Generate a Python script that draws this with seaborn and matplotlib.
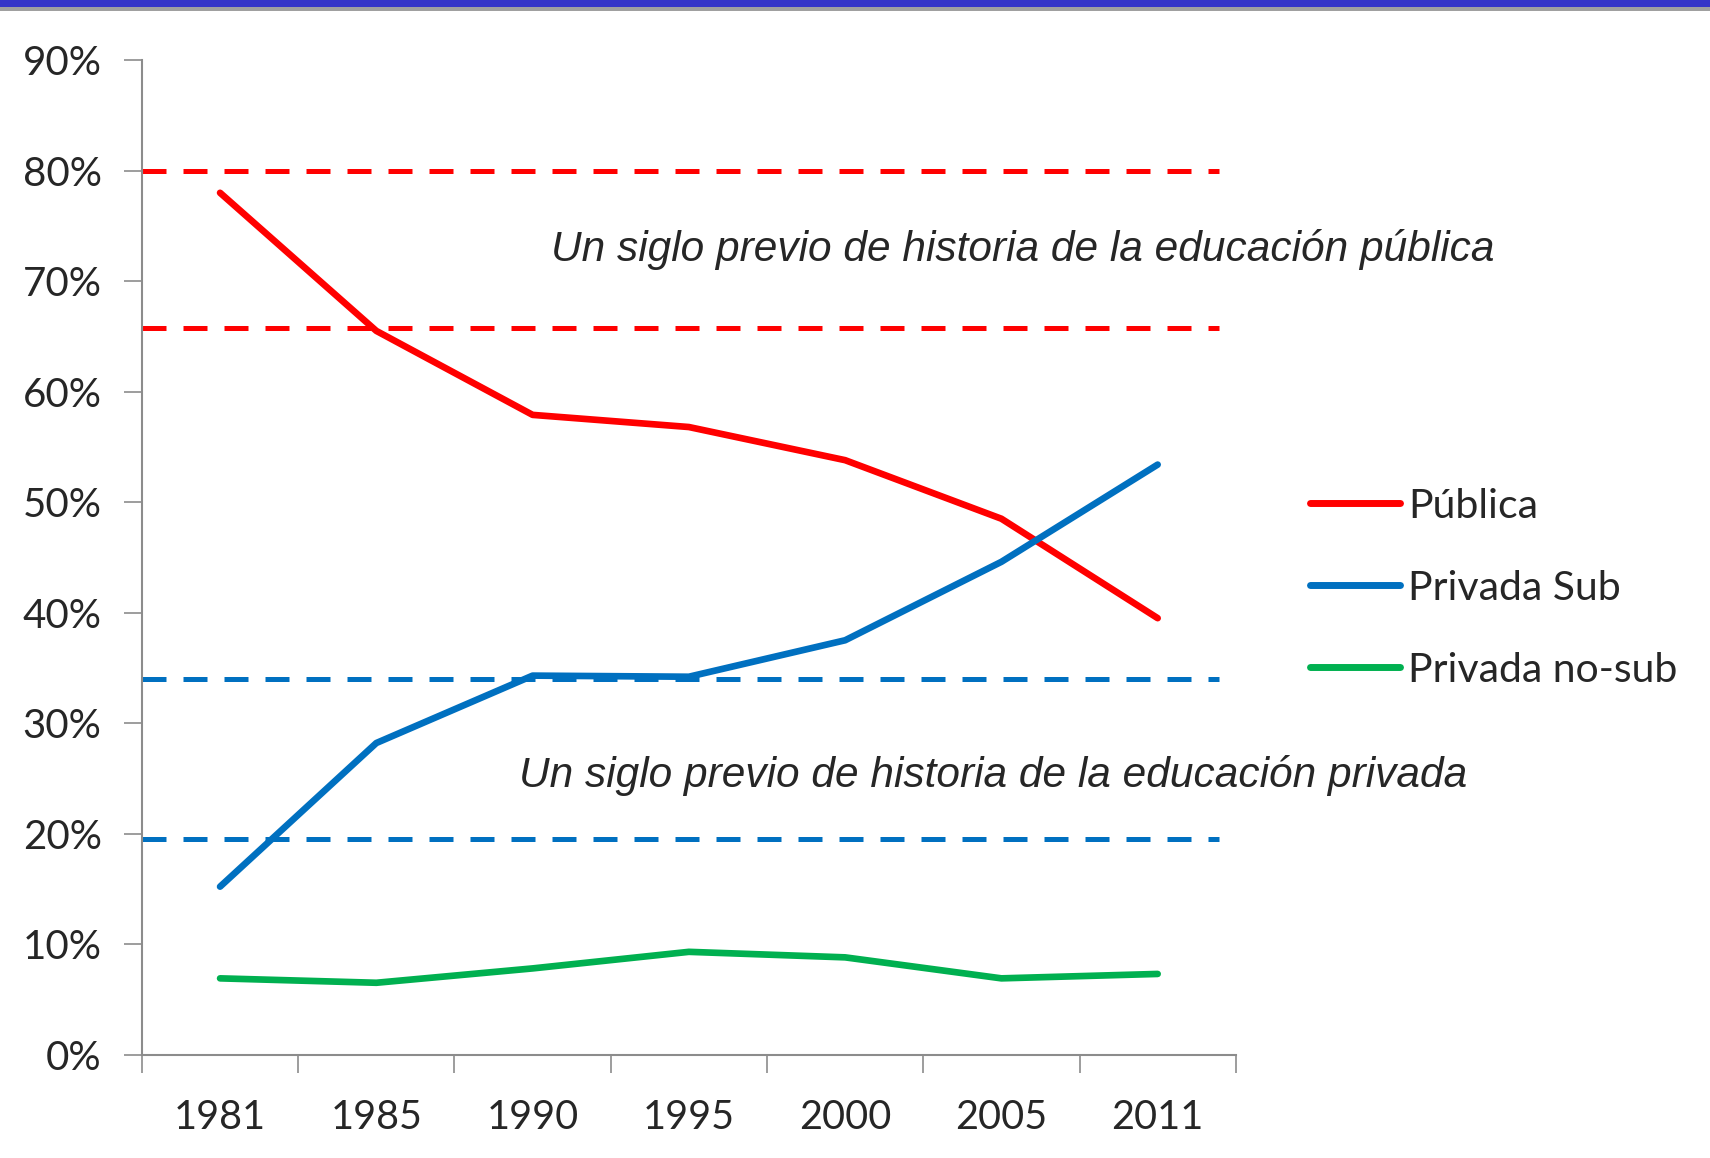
import pandas as pd
import numpy as np
import matplotlib.pyplot as plt
import seaborn as sns
from matplotlib.ticker import PercentFormatter, FixedLocator
from matplotlib.patches import Rectangle

# ================= 1. Data =================
years = ["1981", "1985", "1990", "1995", "2000", "2005", "2011"]
publica = [78.0, 65.5, 57.9, 56.8, 53.8, 48.5, 39.5]
privada_sub = [15.2, 28.2, 34.3, 34.2, 37.5, 44.6, 53.4]
privada_nosub = [6.9, 6.5, 7.8, 9.3, 8.8, 6.9, 7.3]
series_names = ["Pública", "Privada Sub", "Privada no-sub"]

# reference bands ("un siglo previo")
band_publica = [80.0, 65.8]
band_privada = [34.0, 19.5]
note_publica = "Un siglo previo de historia de la educación pública"
note_privada = "Un siglo previo de historia de la educación privada"

colors = {"Pública": "#FF0000", "Privada Sub": "#0070C0", "Privada no-sub": "#00B050"}

df = pd.DataFrame({
    "pos": list(range(len(years))) * 3,
    "value": publica + privada_sub + privada_nosub,
    "serie": np.repeat(series_names, len(years)),
})

# ================= 2. Styling =================
sns.set_style("white")
plt.rcParams['font.family'] = ['Lato', 'DejaVu Sans']
AX_GREY = "#8C8C8C"

fig = plt.figure(figsize=(17.1, 11.58), dpi=100)
ax = fig.add_axes([0.083, 0.0893, 0.6397, 0.8587])

sns.lineplot(data=df, x="pos", y="value", hue="serie", palette=colors,
             linewidth=4.8, ax=ax, legend=True, solid_capstyle="round")

# dashed reference lines
dash = (0, (4.8, 3.4))
ax.hlines(band_publica, -0.5, 6.39, colors="#FF0000", linestyles=[dash], linewidth=3.6, zorder=1)
ax.hlines(band_privada, -0.5, 6.39, colors="#0070C0", linestyles=[dash], linewidth=3.6, zorder=1)

ax.text(5.136, 72.9, note_publica, ha="center", va="center", fontsize=30.5,
        style="italic", family=["Liberation Sans", "DejaVu Sans"])
ax.text(4.948, 25.3, note_privada, ha="center", va="center", fontsize=30.5,
        style="italic", family=["Liberation Sans", "DejaVu Sans"])

# ================= 3. Axes =================
ax.set_xlim(-0.5, len(years) - 0.5)
ax.set_ylim(0, 90)
ax.yaxis.set_major_locator(FixedLocator(np.arange(0, 91, 10)))
ax.yaxis.set_major_formatter(PercentFormatter(decimals=0))

ax.xaxis.set_major_locator(FixedLocator(np.arange(-0.5, len(years), 1.0)))
ax.xaxis.set_minor_locator(FixedLocator(np.arange(len(years))))
ax.set_xticklabels([], minor=False)
ax.set_xticklabels(years, minor=True)
ax.tick_params(axis="x", which="major", length=13, width=1.2, color=AX_GREY, direction="out")
ax.tick_params(axis="x", which="minor", length=0, pad=32, labelsize=28.5)
ax.tick_params(axis="y", length=13, width=1.2, color=AX_GREY, direction="out", pad=16, labelsize=29)
ax.tick_params(bottom=True, left=True, which="both")

for side in ["top", "right"]:
    ax.spines[side].set_visible(False)
for side in ["left", "bottom"]:
    ax.spines[side].set_color(AX_GREY)
    ax.spines[side].set_linewidth(1.5)

ax.set_xlabel("")
ax.set_ylabel("")

# ================= 4. Legend =================
handles, labels = ax.get_legend_handles_labels()
for h in handles:
    h.set_linewidth(5)
    h.set_solid_capstyle("round")
ax.legend(handles, labels, loc="center left", bbox_to_anchor=(0.7565, 0.492),
          bbox_transform=fig.transFigure, frameon=False, fontsize=29.5,
          handlelength=2.2, handletextpad=0.2, labelspacing=1.1, borderaxespad=0)

# ================= 5. Top banner =================
fig.patches.append(Rectangle((0, 1 - 7 / 1158), 1, 7 / 1158, transform=fig.transFigure,
                             facecolor="#3535C8", edgecolor="none"))
fig.patches.append(Rectangle((0, 1 - 11 / 1158), 1, 4 / 1158, transform=fig.transFigure,
                             facecolor="#A0A0A0", edgecolor="none"))

fig.savefig("out.png", dpi=100)
